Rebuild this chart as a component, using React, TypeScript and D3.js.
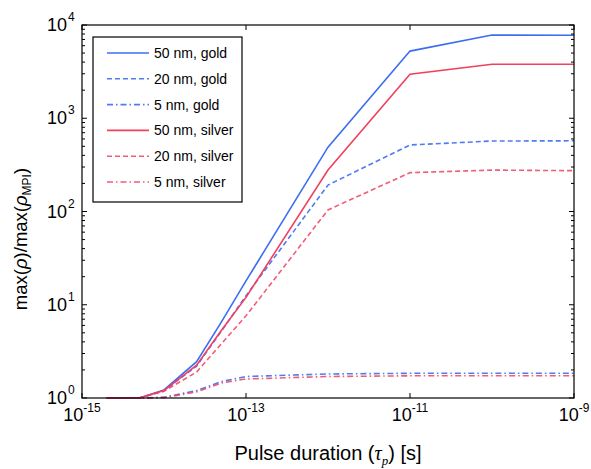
import React, { useEffect, useRef } from "react";
import * as d3 from "d3";

const pulseDurations = [2e-15, 5e-15, 1e-14, 2.5e-14, 5e-14, 1e-13, 1e-12, 1e-11, 1e-10, 1e-9];
const gold50 = [1, 1, 1.22, 2.45, 6.5, 18, 490, 5250, 7800, 7770];
const gold20 = [1, 1, 1.2, 2.2, 5.2, 12.5, 192, 517, 570, 573];
const gold5 = [1, 1, 1.02, 1.2, 1.5, 1.7, 1.81, 1.84, 1.84, 1.84];
const silver50 = [1, 1, 1.2, 2.25, 5.3, 12, 279, 2960, 3800, 3790];
const silver20 = [1, 1, 1.18, 1.9, 3.8, 7.6, 104, 261, 278, 274];
const silver5 = [1, 1, 1.01, 1.16, 1.45, 1.6, 1.7, 1.73, 1.73, 1.73];

const seriesNames = ["50 nm, gold", "20 nm, gold", "5 nm, gold", "50 nm, silver", "20 nm, silver", "5 nm, silver"];
const xTickExps = [-15, -13, -11, -9];
const yTickExps = [0, 1, 2, 3, 4];

const BLUE = "#3d6ef0";
const RED = "#f0405e";

export default function App() {
  const ref = useRef<SVGSVGElement>(null);
  useEffect(() => {
    const svg = d3.select(ref.current);
    svg.selectAll("*").remove();
    const W = 591, H = 469;
    const left = 82, right = 574, top = 25, bottom = 398;
    const x = d3.scaleLog().domain([1e-15, 1e-9]).range([left, right]);
    const y = d3.scaleLog().domain([1, 1e4]).range([bottom, top]);
    const font = "Arial, 'Liberation Sans', sans-serif";

    svg.append("rect").attr("width", W).attr("height", H).attr("fill", "white");

    const styles = [
      { color: BLUE, dash: null, op: 1 },
      { color: BLUE, dash: "5,3", op: 0.9 },
      { color: BLUE, dash: "6,3,1.5,3", op: 0.9 },
      { color: RED, dash: null, op: 1 },
      { color: RED, dash: "5,3", op: 0.85 },
      { color: RED, dash: "6,3,1.5,3", op: 0.85 },
    ];
    const allSeries = [gold50, gold20, gold5, silver50, silver20, silver5];

    const line = d3
      .line<number>()
      .x((_, i) => x(pulseDurations[i]))
      .y((d) => y(d));

    const g = svg.append("g");
    allSeries.forEach((s, k) => {
      g.append("path")
        .attr("d", line(s))
        .attr("fill", "none")
        .attr("stroke", styles[k].color)
        .attr("stroke-opacity", styles[k].op)
        .attr("stroke-width", 1.6)
        .attr("stroke-dasharray", styles[k].dash);
    });

    // frame
    svg.append("rect")
      .attr("x", left).attr("y", top)
      .attr("width", right - left).attr("height", bottom - top)
      .attr("fill", "none").attr("stroke", "black").attr("stroke-width", 1.2);

    // x ticks
    xTickExps.forEach((e) => {
      const xv = x(Math.pow(10, e));
      svg.append("line").attr("x1", xv).attr("x2", xv).attr("y1", bottom).attr("y2", bottom - 5).attr("stroke", "black");
      svg.append("line").attr("x1", xv).attr("x2", xv).attr("y1", top).attr("y2", top + 5).attr("stroke", "black");
      const t = svg.append("text").attr("x", xv).attr("y", 421).attr("text-anchor", "middle")
        .attr("font-family", font).attr("font-size", 18);
      t.append("tspan").text("10");
      t.append("tspan").attr("font-size", 12).attr("dy", -9).text(String(e));
    });

    // y ticks
    yTickExps.forEach((e) => {
      const yv = y(Math.pow(10, e));
      svg.append("line").attr("x1", left).attr("x2", left + 5).attr("y1", yv).attr("y2", yv).attr("stroke", "black");
      svg.append("line").attr("x1", right).attr("x2", right - 5).attr("y1", yv).attr("y2", yv).attr("stroke", "black");
      if (e < 4) {
        for (let m = 2; m <= 9; m++) {
          const ym = y(m * Math.pow(10, e));
          svg.append("line").attr("x1", left).attr("x2", left + 3).attr("y1", ym).attr("y2", ym).attr("stroke", "black");
          svg.append("line").attr("x1", right).attr("x2", right - 3).attr("y1", ym).attr("y2", ym).attr("stroke", "black");
        }
      }
      const t = svg.append("text").attr("x", 67).attr("y", yv + 6).attr("text-anchor", "end")
        .attr("font-family", font).attr("font-size", 18);
      t.append("tspan").text("10");
      const s = svg.append("text").attr("x", 68).attr("y", yv - 4).attr("text-anchor", "start")
        .attr("font-family", font).attr("font-size", 12);
      s.text(String(e));
    });

    // axis labels
    const xl = svg.append("text").attr("x", (left + right) / 2).attr("y", 460).attr("text-anchor", "middle")
      .attr("font-family", font).attr("font-size", 20);
    xl.append("tspan").text("Pulse duration (");
    xl.append("tspan").attr("font-style", "italic").attr("font-family", "'Liberation Serif', serif").text("τ");
    xl.append("tspan").attr("font-style", "italic").attr("font-family", "'Liberation Serif', serif").attr("font-size", 13).attr("dy", 5).text("p");
    xl.append("tspan").attr("dy", -5).text(") [s]");

    const yl = svg.append("text")
      .attr("transform", `translate(27, 239) rotate(-90)`)
      .attr("text-anchor", "middle").attr("font-family", font).attr("font-size", 18.5);
    yl.append("tspan").text("max(");
    yl.append("tspan").attr("font-style", "italic").text("ρ");
    yl.append("tspan").text(")/max(");
    yl.append("tspan").attr("font-style", "italic").text("ρ");
    yl.append("tspan").attr("font-size", 12).attr("dy", 4).text("MPI");
    yl.append("tspan").attr("dy", -4).text(")");

    // legend
    const lg = svg.append("g");
    lg.append("rect").attr("x", 93).attr("y", 37).attr("width", 149).attr("height", 165)
      .attr("fill", "white").attr("stroke", "black").attr("stroke-width", 1.2);
    seriesNames.forEach((name, k) => {
      const ly = 53 + k * 25.8;
      lg.append("line").attr("x1", 107).attr("x2", 149).attr("y1", ly).attr("y2", ly)
        .attr("stroke", styles[k].color).attr("stroke-opacity", styles[k].op)
        .attr("stroke-width", 1.6).attr("stroke-dasharray", styles[k].dash);
      lg.append("text").attr("x", 154).attr("y", ly + 5).attr("font-family", font).attr("font-size", 14).text(name);
    });
  }, []);
  return <svg ref={ref} width={591} height={469} style={{ position: "absolute", left: 0, top: 0 }} />;
}
